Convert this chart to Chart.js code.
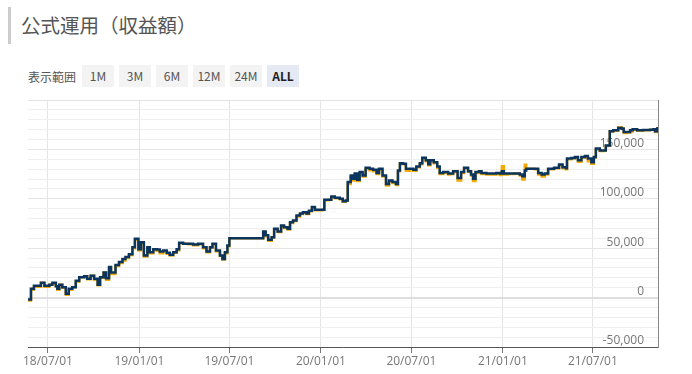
<!DOCTYPE html>
<html lang="ja">
<head>
<meta charset="utf-8">
<title>公式運用（収益額）</title>
<script src="https://cdn.jsdelivr.net/npm/chart.js@4.4.0/dist/chart.umd.min.js"></script>
<style>
  body { margin: 0; width: 692px; height: 374px; background: #fff; position: relative; overflow: hidden;
         font-family: "Noto Sans CJK JP", "Open Sans", sans-serif; }
  .title { position: absolute; left: 8px; top: 7px; height: 37px; line-height: 36px; border-left: 3px solid #ccc;
           padding-left: 10px; font-size: 19.5px; color: #555; }
  .range { position: absolute; left: 28px; top: 65px; height: 22px; display: flex; align-items: center;
           font-size: 12px; color: #555; }
  .range .lbl { width: 54px; }
  .range .btn { width: 32px; height: 22px; line-height: 22px; text-align: center; background: #f3f3f3; margin-right: 5px; }
  .range .btn.on { background: #e4e9f3; font-weight: bold; color: #222; }
  #wrap { position: absolute; left: 0; top: 90px; width: 692px; height: 284px; }
</style>
</head>
<body>
<div class="title">公式運用（収益額）</div>
<div class="range">
  <span class="lbl">表示範囲</span>
  <span class="btn">1M</span><span class="btn">3M</span><span class="btn">6M</span>
  <span class="btn">12M</span><span class="btn">24M</span><span class="btn on">ALL</span>
</div>
<div id="wrap"><canvas id="chart" width="692" height="284"></canvas></div>
<script>
// x axis
const axisStart = '2018-05-22';
const axisEnd = '2021-11-09';
const tickDates = ['2018-07-01', '2019-01-01', '2019-07-01', '2020-01-01', '2020-07-01', '2021-01-01', '2021-07-01'];
const tickLabels = ['18/07/01', '19/01/01', '19/07/01', '20/01/01', '20/07/01', '21/01/01', '21/07/01'];

// y axis
const yMin = -50000;
const yMax = 200000;
const yStep = 10000;

// series
const dates = [
  '2018-05-22','2018-05-28','2018-06-03','2018-06-17','2018-06-24','2018-07-04','2018-07-10','2018-07-17','2018-07-20','2018-07-24',
  '2018-07-30','2018-08-06','2018-08-12','2018-08-19','2018-08-26','2018-09-02','2018-09-12','2018-09-18','2018-09-25','2018-10-02',
  '2018-10-09','2018-10-14','2018-10-21','2018-10-26','2018-11-01','2018-11-05','2018-11-14','2018-11-21','2018-11-28','2018-12-04',
  '2018-12-11','2018-12-18','2018-12-23','2018-12-30','2019-01-04','2019-01-10','2019-01-17','2019-01-22','2019-01-29','2019-02-05',
  '2019-02-11','2019-02-18','2019-02-25','2019-03-03','2019-03-10','2019-03-17','2019-03-22','2019-03-30','2019-04-09','2019-04-19',
  '2019-04-29','2019-05-09','2019-05-16','2019-05-23','2019-05-28','2019-06-04','2019-06-12','2019-06-17','2019-06-22','2019-06-27',
  '2019-07-01','2019-09-04','2019-09-07','2019-09-12','2019-09-17','2019-09-24','2019-09-29','2019-10-06','2019-10-13','2019-10-19',
  '2019-10-26','2019-10-31','2019-11-06','2019-11-13','2019-11-20','2019-11-26','2019-12-03','2019-12-08','2019-12-14','2019-12-20',
  '2020-01-04','2020-01-08','2020-01-16','2020-01-22','2020-01-29','2020-02-08','2020-02-14','2020-02-20','2020-02-24','2020-03-01',
  '2020-03-05','2020-03-09','2020-03-14','2020-03-19','2020-03-25','2020-03-31','2020-04-08','2020-04-15','2020-04-22','2020-04-27',
  '2020-05-04','2020-05-11','2020-05-17','2020-05-24','2020-05-31','2020-06-04','2020-06-08','2020-06-14','2020-06-20','2020-06-28',
  '2020-07-05','2020-07-11','2020-07-18','2020-07-23','2020-07-30','2020-08-04','2020-08-08','2020-08-15','2020-08-22','2020-08-27',
  '2020-09-03','2020-09-13','2020-09-16','2020-09-23','2020-10-02','2020-10-09','2020-10-15','2020-10-23','2020-10-29','2020-11-02',
  '2020-11-07','2020-11-14','2020-11-19','2020-11-29','2020-12-09','2020-12-19','2020-12-26','2020-12-30','2021-01-03','2021-01-11',
  '2021-01-24','2021-02-04','2021-02-09','2021-02-14','2021-02-17','2021-03-06','2021-03-13','2021-03-20','2021-03-26','2021-04-02',
  '2021-04-14','2021-04-24','2021-05-01','2021-05-08','2021-05-10','2021-05-19','2021-05-26','2021-06-01','2021-06-08','2021-06-15',
  '2021-06-21','2021-06-28','2021-07-03','2021-07-07','2021-07-15','2021-07-23','2021-07-27','2021-08-01','2021-08-04','2021-08-11',
  '2021-08-21','2021-08-28','2021-09-01','2021-09-07','2021-09-14','2021-09-19','2021-09-28','2021-10-10','2021-10-24','2021-10-31',
  '2021-11-03','2021-11-08'
];
const profitValues = [
  -2000, 9000, 12000, 15000, 12000, 13000, 15000, 11500, 9000, 13000,
  10500, 4000, 9000, 10500, 17000, 20500, 21500, 19000, 22000, 19000,
  13000, 20500, 25500, 19500, 31000, 25500, 33000, 36000, 39000, 41000,
  44000, 51000, 59500, 49000, 56000, 42500, 51000, 46000, 49000, 48700,
  46600, 47700, 45300, 43300, 46000, 49000, 55500, 54500, 54500, 53700,
  54500, 51000, 46600, 51000, 54500, 47700, 42500, 39000, 46000, 52700,
  60000, 60000, 67000, 63000, 58500, 61000, 69700, 67000, 73000, 71300,
  69700, 76300, 78000, 83000, 85000, 86500, 85000, 88000, 91600, 89000,
  89000, 99000, 99000, 102400, 101000, 100000, 97600, 98400, 117000, 123700,
  120400, 125500, 119400, 127000, 123700, 131500, 130500, 129500, 126000, 130500,
  123700, 115000, 118600, 117000, 115000, 128700, 136000, 135500, 130500, 130500,
  129500, 132800, 136000, 141600, 139000, 135000, 139000, 137000, 132800, 126000,
  127000, 125500, 125500, 128000, 121000, 127000, 131500, 128000, 124700, 120400,
  127000, 128000, 126000, 125500, 125500, 126000, 125500, 128000, 125500, 125500,
  125500, 124700, 122700, 128700, 130500, 130500, 126000, 124700, 125500, 130500,
  131500, 134600, 132000, 131000, 140700, 141300, 142300, 139000, 142300, 143300,
  140700, 137000, 142300, 151000, 149000, 149000, 154000, 154000, 168300, 169300,
  171700, 171000, 167700, 167700, 169300, 170300, 169300, 169700, 170000, 170300,
  168300, 172700
];
const subValues = [
  -3000, 8000, 11000, 15000, 11000, 13000, 14000, 11500, 8000, 13000,
  10000, 3000, 8000, 10500, 16000, 20500, 21500, 18500, 22000, 18000,
  12500, 20000, 25500, 18000, 30000, 24000, 32000, 35000, 37500, 40000,
  43000, 50000, 58500, 48000, 55000, 41500, 50500, 45000, 48500, 47500,
  45000, 47000, 44500, 42500, 45500, 48000, 55000, 54500, 54000, 53000,
  54000, 50000, 46000, 50500, 54000, 47000, 42000, 38500, 45000, 52000,
  60000, 60000, 66000, 62000, 57500, 60500, 69000, 66500, 72000, 70500,
  69000, 75500, 77500, 82000, 84500, 86000, 84500, 87500, 91000, 88500,
  89000, 98500, 99000, 101500, 100500, 99500, 97000, 98000, 115000, 122000,
  118500, 124000, 118000, 125500, 122500, 130000, 129000, 128000, 125000, 129500,
  122500, 113500, 117500, 116000, 114000, 128000, 135500, 135000, 128500, 130000,
  128500, 132000, 135000, 141000, 138000, 134000, 138500, 136000, 131500, 125000,
  126000, 124500, 125000, 127000, 118500, 126000, 131000, 127500, 123500, 118000,
  126000, 127500, 125000, 124500, 124500, 125000, 124000, 133000, 124500, 125000,
  125500, 123500, 119500, 134500, 130500, 130000, 124500, 122500, 124500, 130000,
  131000, 134000, 131000, 130000, 140000, 141000, 142000, 137500, 141500, 142000,
  138000, 135500, 141500, 150000, 148500, 149000, 153500, 154000, 168000, 169000,
  172500, 171500, 166500, 167000, 168000, 170000, 169000, 169500, 170000, 170300,
  167500, 172700
];

const toPoints = vals => vals.map((v, i) => ({ x: Date.parse(dates[i]), y: v }));

Chart.defaults.font.family = '"Open Sans", sans-serif';
Chart.defaults.font.size = 12;
Chart.defaults.color = '#666';

new Chart(document.getElementById('chart'), {
  type: 'line',
  data: {
    datasets: [
      {
        label: '収益額',
        data: toPoints(profitValues),
        borderColor: '#0b355f',
        borderWidth: 2.5,
        pointRadius: 0,
        stepped: true,
        fill: false
      },
      {
        label: '参考',
        data: toPoints(subValues),
        borderColor: '#f2a900',
        borderWidth: 2.5,
        pointRadius: 0,
        stepped: true,
        fill: false
      }
    ]
  },
  options: {
    responsive: false,
    animation: false,
    layout: { padding: { left: 28, right: 34, top: 10, bottom: 0 } },
    plugins: { legend: { display: false }, tooltip: { enabled: false } },
    scales: {
      x: {
        type: 'linear',
        min: Date.parse(axisStart),
        max: Date.parse(axisEnd),
        afterBuildTicks: scale => {
          scale.ticks = tickDates.map(d => ({ value: Date.parse(d) }));
        },
        afterFit: scale => { scale.height = 27; },
        ticks: {
          autoSkip: false,
          maxRotation: 0,
          padding: 1,
          color: '#777',
          callback: (value, index) => tickLabels[index]
        },
        grid: { color: '#e5e5e5', lineWidth: 1, tickLength: 6, tickColor: '#777' },
        border: { display: true, color: '#555', width: 1 }
      },
      y: {
        position: 'right',
        min: yMin,
        max: yMax,
        afterFit: scale => { scale.width = 0; },
        ticks: {
          stepSize: yStep,
          autoSkip: false,
          mirror: true,
          padding: -14,
          labelOffset: -6,
          color: '#777',
          callback: v => (v % 50000 === 0 && v !== yMax) ? v.toLocaleString('en-US') : ''
        },
        grid: {
          drawTicks: false,
          color: ctx => ctx.tick.value === 0 ? '#dddddd' : (ctx.tick.value % 50000 === 0 ? '#e4e4e4' : '#efefef'),
          lineWidth: ctx => ctx.tick.value === 0 ? 2 : 1
        },
        border: { display: true, color: '#888', width: 1 }
      }
    }
  }
});
</script>
</body>
</html>
